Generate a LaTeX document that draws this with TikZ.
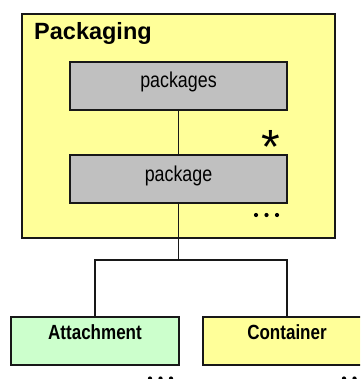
\documentclass[tikz,border=0pt]{standalone}
\usepackage{fontspec}
\setmainfont{Liberation Sans}
\newfontfamily\narrowfont[FakeStretch=0.83]{Liberation Sans}
\definecolor{boxyellow}{HTML}{FFFF99}
\definecolor{boxgray}{HTML}{C0C0C0}
\definecolor{boxgreen}{HTML}{CCFFCC}
\definecolor{edge}{HTML}{181818}
\tikzset{
  framebox/.style={draw=edge, line width=1.4pt},
  conn/.style={draw=edge, line width=1.3pt},
  boxlabel/.style={inner sep=0pt, anchor=base, font=\narrowfont\fontsize{21.5}{24}\selectfont},
  leaflabel/.style={inner sep=0pt, anchor=base, font=\narrowfont\bfseries\fontsize{20.5}{23}\selectfont},
  dotmark/.style={fill=black, draw=none}
}
\begin{document}
\begin{tikzpicture}[x=1pt, y=-1pt]
\useasboundingbox (0,0) rectangle (360,379);
\begin{scope}
\clip (0,0) rectangle (360,379);
% outer frame
\draw[framebox, fill=boxyellow] (22,14) rectangle (335,238);
\coordinate (outerNW) at (22,14);
\node[inner sep=0pt, anchor=base west, font=\bfseries\fontsize{23.5}{26}\selectfont] (title) at (34,40) {Packaging};
% inner boxes
\draw[framebox, fill=boxgray] (70,62) rectangle (287,110);
\coordinate (pkgsTop) at (178.5,62);
\coordinate (pkgsBot) at (178.5,110);
\node[boxlabel] (pkgs) at (178.5,88) {packages};
\draw[framebox, fill=boxgray] (70,155) rectangle (287,203);
\coordinate (pkgTop) at (178.5,155);
\coordinate (pkgBot) at (178.5,203);
\node[boxlabel] (pkg) at (178.5,181) {package};
% multiplicity
\node[inner sep=0pt, anchor=base, font=\fontsize{48}{50}\selectfont] (star) at (271,164) {*};
\fill[dotmark] (256,215) circle (2.1) (266.5,215) circle (2.1) (277,215) circle (2.1);
% leaves
\draw[framebox, fill=boxgreen] (11,317) rectangle (179,365);
\coordinate (attTop) at (95,317);
\node[leaflabel] (att) at (95,339) {Attachment};
\draw[framebox, fill=boxyellow] (203,317) rectangle (372,365);
\coordinate (conTop) at (287,317);
\node[leaflabel] (con) at (287,339) {Container};
% connectors
\draw[conn] (pkgsBot) -- (pkgTop);
\coordinate (fork) at (178.5,260);
\draw[conn] (pkgBot) -- (fork);
\draw[conn] (attTop) |- (fork) -| (conTop);
% bottom dots
\fill[dotmark] (150,378.5) circle (2.1) (160.5,378.5) circle (2.1) (171,378.5) circle (2.1);
\fill[dotmark] (344,378.5) circle (2.1) (354.5,378.5) circle (2.1) (365,378.5) circle (2.1);
\end{scope}
\end{tikzpicture}
\end{document}
